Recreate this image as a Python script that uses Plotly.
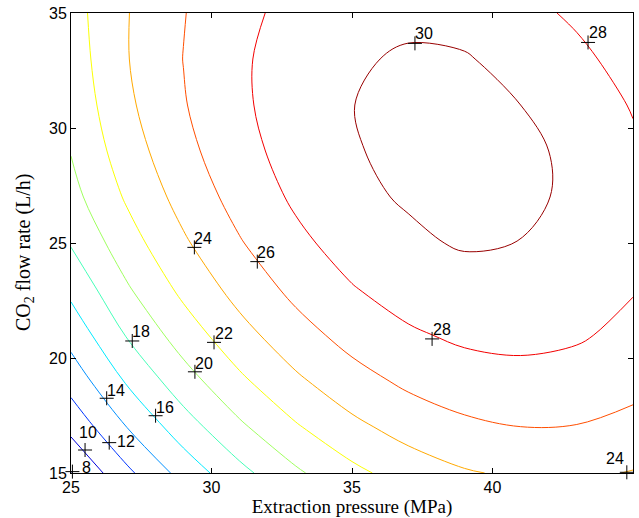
import plotly.graph_objects as go

# ---- data ----
pressure = [25, 27, 29, 31, 33, 35, 37, 39, 41, 43, 45]          # x: extraction pressure (MPa)
flow_rate = [15, 17, 19, 21, 23, 25, 27, 29, 31, 33, 35]         # y: CO2 flow rate (L/h)
# response (rows = flow_rate, columns = pressure)
response = [
    [7.90, 11.58, 14.72, 17.42, 19.68, 21.50, 22.88, 23.82, 24.32, 24.38, 23.90],
    [10.58, 14.04, 17.07, 19.65, 21.80, 23.51, 24.77, 25.60, 25.99, 25.93, 25.44],
    [12.80, 16.23, 19.14, 21.62, 23.65, 25.24, 26.39, 27.11, 27.38, 27.21, 26.60],
    [14.72, 18.15, 20.95, 23.30, 25.22, 26.70, 27.74, 28.34, 28.50, 28.22, 27.49],
    [16.50, 19.79, 22.48, 24.72, 26.52, 27.89, 28.81, 29.38, 29.34, 28.95, 28.11],
    [18.15, 21.16, 23.73, 25.86, 27.55, 28.81, 29.75, 30.14, 29.98, 29.41, 28.46],
    [19.36, 22.26, 24.72, 26.73, 28.31, 29.70, 30.14, 30.40, 30.22, 29.80, 28.53],
    [20.08, 23.08, 25.43, 27.33, 28.79, 29.88, 30.40, 30.54, 30.25, 29.75, 28.33],
    [20.60, 23.64, 25.87, 27.66, 29.00, 29.98, 30.38, 30.41, 30.00, 29.15, 27.86],
    [20.95, 23.92, 26.03, 27.71, 28.94, 29.80, 30.20, 30.12, 29.49, 28.52, 27.12],
    [21.20, 23.92, 25.92, 27.49, 28.61, 29.29, 29.62, 29.42, 28.70, 27.62, 26.10],
]
levels_start, levels_end, levels_step = 8, 30, 2

x_ticks = [25, 30, 35, 40, 45]
y_ticks = [15, 20, 25, 30, 35]

x_title = 'Extraction pressure (MPa)'
y_title = 'CO<sub>2</sub> flow rate (L/h)'

# contour-label anchor points (the "+" marks) and their texts
label_text = ['8', '10', '12', '14', '16', '18', '20', '22', '24', '26', '28', '28', '30', '24']
label_x = [25.05, 25.50, 26.36, 26.27, 28.01, 27.18, 29.41, 30.09, 29.39, 31.63, 37.85, 43.40, 37.24, 44.78]
label_y = [15.06, 16.00, 16.32, 18.25, 17.49, 20.74, 19.40, 20.68, 24.81, 24.19, 20.83, 33.72, 33.68, 15.03]

# ---- style ----
# label text offsets from the "+" (pixels: right, up)
label_dx = [14, 3, 17, 9, 9, 9, 9.5, 9.5, 9, 9, 9.5, 10, 9, -12]
label_dy = [4, 18, 1, 8, 8.5, 9, 8, 9, 9, 9, 9, 10, 9.5, 14]

# MATLAB "jet" mapped on the data range (8 .. ~30.55) expressed on the level range 8 .. 30
jet_lines = [
    [0.0, 'rgb(0,0,128)'],
    [0.1281, 'rgb(0,0,255)'],
    [0.3844, 'rgb(0,255,255)'],
    [0.6406, 'rgb(255,255,0)'],
    [0.8969, 'rgb(255,0,0)'],
    [1.0, 'rgb(152,0,0)'],
]

SANS = 'Liberation Sans, Arial, Helvetica, sans-serif'
SERIF = 'Liberation Serif, Times New Roman, serif'

fig = go.Figure()
fig.add_trace(go.Contour(
    x=pressure, y=flow_rate, z=response,
    contours=dict(start=levels_start, end=levels_end, size=levels_step,
                  coloring='lines', showlabels=False),
    colorscale=jet_lines, showscale=False,
    line=dict(width=1, smoothing=1.0),
    hoverinfo='skip',
))
fig.add_trace(go.Scatter(
    x=label_x, y=label_y, mode='markers',
    marker=dict(symbol='cross-thin', size=10, color='black',
                line=dict(width=1, color='black')),
    cliponaxis=False, hoverinfo='skip', showlegend=False,
))
for t, xv, yv, dx, dy in zip(label_text, label_x, label_y, label_dx, label_dy):
    fig.add_annotation(x=xv, y=yv, text=t, showarrow=False,
                       xanchor='center', yanchor='middle',
                       xshift=dx, yshift=dy,
                       font=dict(family=SANS, size=16, color='black'))

# y-axis title (rotated), placed as in the reference
fig.add_annotation(xref='paper', yref='paper', x=-0.084, y=0.48,
                   text=y_title, textangle=-90, showarrow=False,
                   xanchor='center', yanchor='middle',
                   font=dict(family=SERIF, size=20, color='black'))

axis_common = dict(
    ticks='inside', ticklen=5, tickwidth=1, tickcolor='black',
    showline=True, linecolor='black', linewidth=1, mirror='allticks',
    showgrid=False, zeroline=False,
    tickfont=dict(family=SANS, size=16, color='black'),
)
fig.update_xaxes(range=[25, 45], tickvals=x_ticks, **axis_common,
                 title=dict(text=x_title,
                            font=dict(family=SERIF, size=19, color='black'),
                            standoff=2))
fig.update_yaxes(range=[15, 35], tickvals=y_ticks, **axis_common)
fig.update_layout(
    width=639, height=518,
    margin=dict(l=71, r=6, t=13, b=45, autoexpand=False),
    plot_bgcolor='white', paper_bgcolor='white',
    showlegend=False,
)
fig.write_html("out.html", config={'displayModeBar': False},
               post_script="document.body.style.margin='0px';document.body.style.padding='0px';document.body.style.overflow='hidden';")
